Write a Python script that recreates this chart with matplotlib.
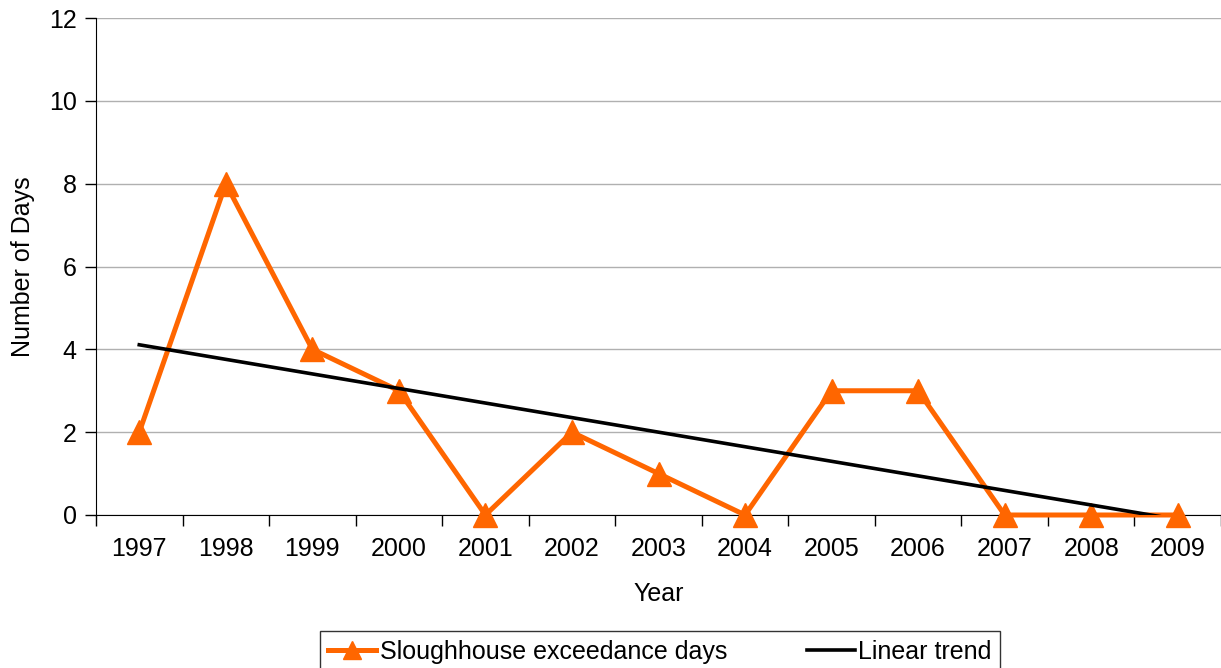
import matplotlib
matplotlib.use("Agg")
import matplotlib.pyplot as plt
import numpy as np

plt.rcParams['font.family'] = ['Liberation Sans', 'DejaVu Sans']

years = ['1997', '1998', '1999', '2000', '2001', '2002', '2003', '2004',
         '2005', '2006', '2007', '2008', '2009']
days = [2, 8, 4, 3, 0, 2, 1, 0, 3, 3, 0, 0, 0]
yticks = [0, 2, 4, 6, 8, 10, 12]

x = np.arange(len(years))
slope, intercept = np.polyfit(x, days, 1)
trend = slope * x + intercept

fs = 18

fig = plt.figure(figsize=(12.21, 6.68), dpi=100)
ax = fig.add_axes([96/1221, 1 - 515/668, 1 - 96/1221, (515 - 18)/668])

ax.plot(x, days, color='#FF6600', lw=3.6, marker='^', markersize=17,
        label='Sloughhouse exceedance days', zorder=3, clip_on=False)
ax.plot(x, trend, color='black', lw=2.6, label='Linear trend', zorder=4)

ax.set_xlim(-0.5, len(years) - 0.5)
ax.set_ylim(0, 12)
ax.set_yticks(yticks)
ax.set_yticklabels([str(v) for v in yticks])
ax.yaxis.grid(True, color='#b0b0b0', lw=1)
ax.set_axisbelow(True)

ax.set_xticks(x)
ax.set_xticklabels(years)
ax.set_xticks(np.arange(-0.5, len(years), 1), minor=True)
ax.tick_params(axis='x', which='major', length=0, pad=16, labelsize=fs)
ax.tick_params(axis='x', which='minor', length=8, width=1, direction='out')
ax.tick_params(axis='y', length=8, width=1, labelsize=fs, pad=6)

for s in ['top', 'right']:
    ax.spines[s].set_visible(False)
ax.spines['left'].set_color('black')
ax.spines['bottom'].set_color('black')

ax.set_xlabel('Year', fontsize=fs, labelpad=15)
ax.set_ylabel('Number of Days', fontsize=fs, labelpad=10)

leg = fig.legend(loc='center', bbox_to_anchor=(660/1221, 1 - 652/668), ncol=2,
                 fontsize=fs, frameon=True, fancybox=False, edgecolor='black',
                 handlelength=1.9, handletextpad=0.15, columnspacing=3.2,
                 borderpad=0.35, markerscale=0.8)
leg.get_frame().set_linewidth(1)

fig.savefig('out.png', dpi=100)
